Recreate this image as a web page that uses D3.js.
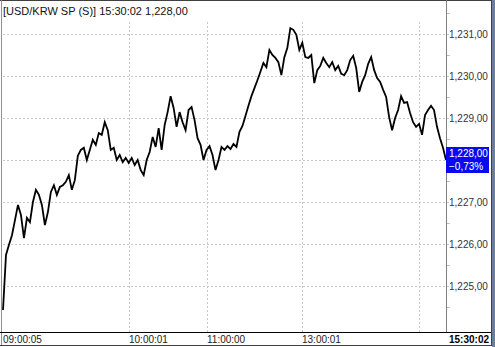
<!DOCTYPE html>
<html><head><meta charset="utf-8">
<script src="https://cdn.jsdelivr.net/npm/d3@7"></script>
<style>
html,body{margin:0;padding:0;background:#fff;}
svg{display:block;}
text{font-family:"Liberation Sans",Arial,sans-serif;}
</style></head>
<body>
<script>
// ---- data ----
const title = "[USD/KRW SP (S)] 15:30:02  1,228,00";
const prices = [
1224.43,1225.74,1225.98,1226.21,1226.57,1226.93,1226.69,1226.14,1226.62,1226.52,
1227.00,1227.29,1227.17,1226.93,1226.45,1226.76,1227.24,1227.40,1227.17,1227.36,
1227.40,1227.48,1227.64,1227.29,1227.52,1228.10,1228.24,1228.29,1228.00,1228.24,
1228.48,1228.36,1228.64,1228.60,1228.90,1228.71,1228.24,1228.29,1228.00,1228.12,
1227.95,1228.05,1227.93,1228.05,1227.88,1228.00,1227.76,1227.64,1228.00,1228.19,
1228.55,1228.31,1228.76,1228.24,1228.83,1229.14,1229.52,1229.24,1228.79,1229.14,
1228.90,1228.71,1229.19,1229.26,1228.95,1228.52,1228.36,1228.00,1228.24,1228.33,
1228.12,1227.76,1228.00,1228.31,1228.24,1228.33,1228.26,1228.38,1228.31,1228.67,
1228.81,1229.05,1229.29,1229.52,1229.71,1229.90,1230.10,1230.31,1230.21,1230.62,
1230.50,1230.43,1230.33,1230.02,1230.45,1230.67,1231.14,1231.10,1230.98,1230.62,
1230.79,1230.45,1230.43,1230.50,1229.83,1230.14,1230.24,1230.43,1230.31,1230.21,
1230.33,1230.14,1230.24,1230.05,1230.02,1230.14,1230.38,1230.48,1230.19,1229.62,
1229.86,1230.02,1230.29,1230.45,1230.14,1229.95,1229.86,1229.67,1229.50,1229.02,
1228.71,1229.00,1229.19,1229.52,1229.36,1229.38,1229.12,1228.90,1228.79,1228.86,
1228.60,1229.07,1229.19,1229.29,1229.19,1228.79,1228.52,1228.29,1228.00
];
const timeLabels = ["09:00:05","10:00:01","11:00:00","13:00:01"];
const timeIdx    = [0, 42, 68, 100];
const gridIdx    = [42, 68, 100, 139];
const lastLabel  = "15:30:02";
const yTicks     = [1225,1226,1227,1228,1229,1230,1231];
const lastPrice  = "1,228,00";
const lastChange = "\u22120,73%";

// ---- layout ----
const W = 495, H = 347;
const plotL = 3, plotR = 446, axisBottom = 332;
const svg = d3.select("body").append("svg").attr("width", W).attr("height", H);

const x = d3.scaleLinear().domain([0, prices.length - 1]).range([plotL, plotR]);
const y = d3.scaleLinear().domain([1225, 1231]).range([286, 34]);

const fmt = v => d3.format(",.2f")(v).replace(".", ",");
const lastY = y(prices[prices.length - 1]);
const boxTop = lastY - 13, boxH = 26;

// frame
svg.append("rect").attr("x",0).attr("y",0).attr("width",W).attr("height",H).attr("fill","#fff");
svg.append("rect").attr("x",492).attr("y",0).attr("width",3).attr("height",H).attr("fill","#6b7f9c");
svg.append("line").attr("x1",0).attr("x2",492).attr("y1",0.5).attr("y2",0.5).attr("stroke","#404040");
svg.append("line").attr("x1",1.5).attr("x2",1.5).attr("y1",0).attr("y2",346).attr("stroke","#909090");
svg.append("line").attr("x1",491.5).attr("x2",491.5).attr("y1",0).attr("y2",346).attr("stroke","#404040");

// horizontal grid
svg.append("g").selectAll("line").data(yTicks).join("line")
  .attr("x1", plotL).attr("x2", plotR + 3)
  .attr("y1", d => Math.round(y(d)) + 0.5).attr("y2", d => Math.round(y(d)) + 0.5)
  .attr("stroke", "#c8c8c8").attr("stroke-dasharray", "2,2");
// vertical grid
svg.append("g").selectAll("line").data(gridIdx).join("line")
  .attr("x1", d => Math.round(x(d)) + 0.5).attr("x2", d => Math.round(x(d)) + 0.5)
  .attr("y1", 22).attr("y2", axisBottom)
  .attr("stroke", "#c8c8c8").attr("stroke-dasharray", "2,2");

// right axis
svg.append("line").attr("x1", plotR + 0.5).attr("x2", plotR + 0.5).attr("y1", 0).attr("y2", axisBottom)
  .attr("stroke", "#808080");
const minor = d3.range(1224.5, 1231.6, 1);
svg.append("g").selectAll("line").data(minor).join("line")
  .attr("x1", plotR + 1).attr("x2", plotR + 4)
  .attr("y1", d => Math.round(y(d)) + 0.5).attr("y2", d => Math.round(y(d)) + 0.5)
  .attr("stroke", "#c0c0c0");
svg.append("clipPath").attr("id","rc").append("rect")
  .attr("x", plotR + 1).attr("y", 0).attr("width", 491 - plotR - 1).attr("height", H);
// tick labels hidden behind the last-price box are not drawn
svg.append("g").attr("clip-path","url(#rc)").selectAll("text")
  .data(yTicks.filter(d => y(d) < boxTop - 4 || y(d) > boxTop + boxH + 4)).join("text")
  .attr("x", plotR + 3).attr("y", d => y(d) + 4)
  .attr("font-size", 10).attr("fill", "#333").text(d => fmt(d));

// price line
svg.append("path").datum(prices)
  .attr("d", d3.line().x((d,i) => x(i)).y(d => y(d)))
  .attr("fill", "none").attr("stroke", "#000").attr("stroke-width", 1.8)
  .attr("stroke-linejoin", "miter");

// last price box
svg.append("rect").attr("x", plotR).attr("y", boxTop).attr("width", 43).attr("height", boxH).attr("fill", "#0a0af0");
svg.append("text").attr("x", plotR + 3).attr("y", boxTop + 10).attr("font-size", 10).attr("fill", "#fff").text(lastPrice);
svg.append("text").attr("x", plotR + 3).attr("y", boxTop + 23).attr("font-size", 10).attr("fill", "#fff").text(lastChange);

// bottom axis strip
svg.append("line").attr("x1", 0).attr("x2", 491).attr("y1", axisBottom + 0.5).attr("y2", axisBottom + 0.5).attr("stroke", "#000");
svg.append("line").attr("x1", 0).attr("x2", 491).attr("y1", 345.5).attr("y2", 345.5).attr("stroke", "#404040");
svg.append("g").selectAll("text").data(timeLabels).join("text")
  .attr("x", (d,i) => Math.round(x(timeIdx[i])))
  .attr("y", 343).attr("font-size", 10).attr("fill", "#222").text(d => d);
svg.append("text").attr("x", 489).attr("y", 343).attr("text-anchor", "end")
  .attr("font-size", 10).attr("font-weight", "bold").attr("fill", "#000").text(lastLabel);

// title
svg.append("text").attr("x", 3).attr("y", 15).attr("font-size", 11).attr("fill", "#111").text(title);
</script>
</body></html>
